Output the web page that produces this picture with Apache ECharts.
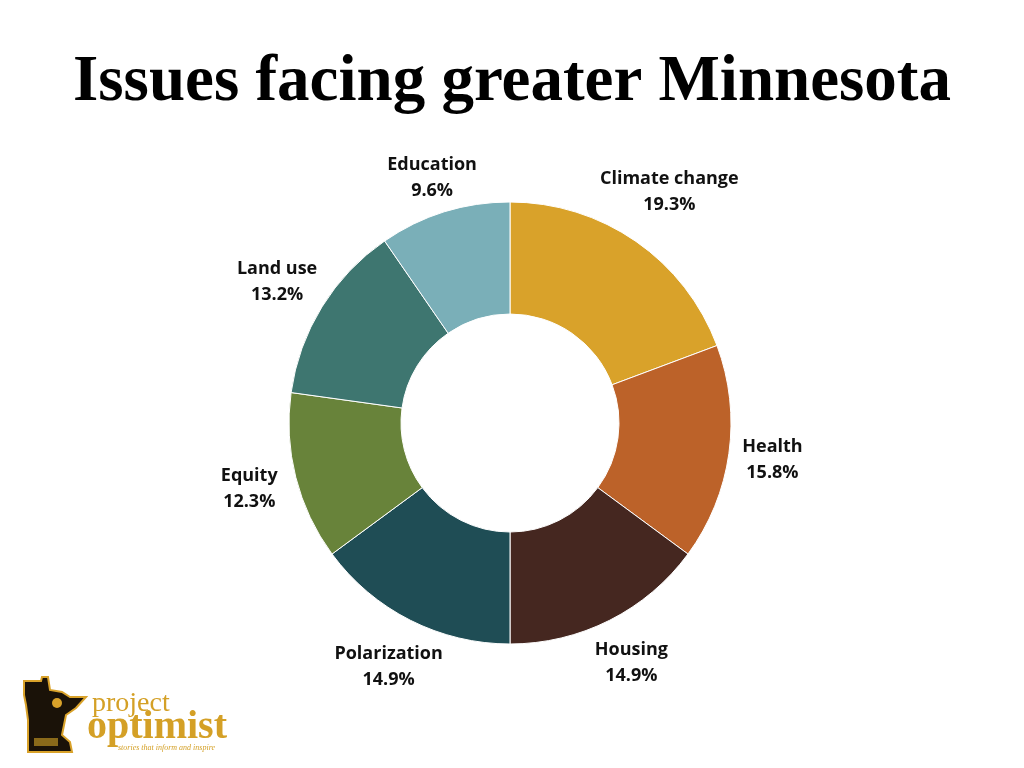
<!DOCTYPE html>
<html>
<head>
<meta charset="utf-8">
<script src="https://cdn.jsdelivr.net/npm/echarts@6/dist/echarts.min.js"></script>
<style>
html,body{margin:0;padding:0;background:#fff;}
#main{width:1024px;height:768px;}
</style>
</head>
<body>
<div id="main"></div>
<script>
// data
var issues = ['Climate change', 'Health', 'Housing', 'Polarization', 'Equity', 'Land use', 'Education'];
var shares = [19.3, 15.8, 14.9, 14.9, 12.3, 13.2, 9.6];
var sliceColors = ['#D9A22A', '#BC6229', '#452720', '#1F4D55', '#68833A', '#3E7670', '#7AAFB8'];

// small nudges so labels sit like the original
var labelNudge = {'Climate change': [6, -10], 'Education': [2, 12], 'Land use': [-4, 0], 'Polarization': [0, 4], 'Health': [-4, 0]};

var pieData = issues.map(function(name, i){
	return {name: name, value: shares[i], itemStyle: {color: sliceColors[i]}};
});
var labelData = issues.map(function(name, i){
	var d = {name: name, value: shares[i]};
	if (labelNudge[name]) d.label = {offset: labelNudge[name]};
	return d;
});

var myChart = echarts.init(document.getElementById('main'));
var option = {
	backgroundColor: '#fff',
	animation: false,
	title: {
		text: 'Issues facing greater Minnesota',
		left: 'center',
		top: 46,
		textStyle: {
			fontFamily: 'Liberation Serif',
			fontWeight: 'bold',
			fontSize: 65,
			color: '#000'
		}
	},
	series: [
		{
			name: 'issues',
			type: 'pie',
			center: [510, 423],
			radius: [109, 221],
			startAngle: 90,
			clockwise: true,
			label: {show: false},
			labelLine: {show: false},
			itemStyle: {borderColor: '#fff', borderWidth: 1},
			data: pieData
		},
		{
			// invisible ring only used to place the labels
			name: 'labels',
			type: 'pie',
			silent: true,
			center: [510, 423],
			radius: [222, 310],
			startAngle: 90,
			clockwise: true,
			itemStyle: {color: 'rgba(0,0,0,0)', borderWidth: 0},
			labelLine: {show: false},
			label: {
				show: true,
				position: 'inside',
				formatter: function(p){ return p.name + '\n' + p.value.toFixed(1) + '%'; },
				fontFamily: 'Open Sans',
				fontWeight: 'bold',
				fontSize: 18,
				lineHeight: 26,
				color: '#111',
				align: 'center'
			},
			data: labelData
		}
	],
	graphic: [
		{
			type: 'polygon',
			shape: {points: [[24,681],[41,681],[42,677],[48,677],[50,690],[62,692],[70,697],[86,697],[76,708],[66,715],[64,725],[62,735],[70,742],[72,752],[28,752],[28,720],[26,705],[24,695]]},
			style: {fill: '#1a1208', stroke: '#D9A22A', lineWidth: 2}
		},
		{type: 'circle', shape: {cx: 57, cy: 703, r: 5}, style: {fill: '#D9A22A'}},
		{type: 'rect', shape: {x: 34, y: 738, width: 24, height: 8}, style: {fill: '#8a6a1a'}},
		{
			type: 'text', left: 92, top: 690,
			style: {text: 'project', font: '28px "Liberation Serif"', fill: '#D4A026'}
		},
		{
			type: 'text', left: 87, top: 708,
			style: {text: 'optimist', font: 'bold 40px "Liberation Serif"', fill: '#D4A026'}
		},
		{
			type: 'text', left: 118, top: 744,
			style: {text: 'stories that inform and inspire', font: 'italic 8px "Liberation Serif"', fill: '#D4A026'}
		}
	]
};
myChart.setOption(option);
</script>
</body>
</html>
